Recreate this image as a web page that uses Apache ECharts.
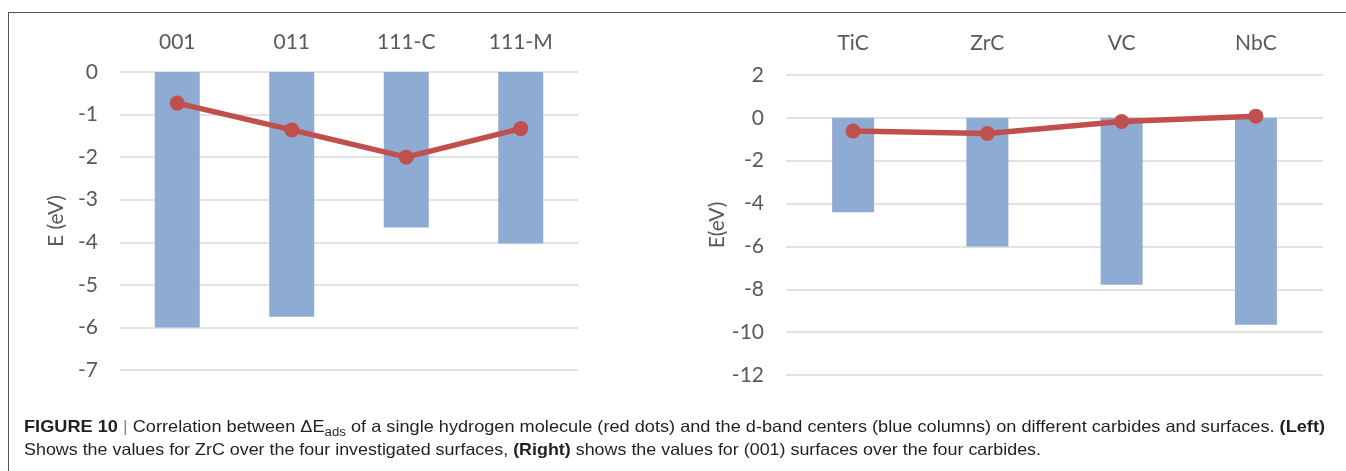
<!DOCTYPE html>
<html>
<head>
<meta charset="utf-8">
<script src="https://cdn.jsdelivr.net/npm/echarts@6/dist/echarts.min.js"></script>
<style>
  html, body { margin: 0; padding: 0; background: #fff; }
  #wrap { position: relative; width: 1346px; height: 471px; overflow: hidden; }
  #frame { position: absolute; left: 8px; top: 12px; width: 1400px; height: 500px;
           border-left: 1.5px solid #555; border-top: 1.5px solid #555; box-sizing: border-box; }
  #chart { position: absolute; left: 0; top: 0; width: 1346px; height: 471px; }
  .cap { position: absolute; left: 24px; white-space: nowrap; font-family: "Liberation Sans", Arial, sans-serif;
         font-size: 16.5px; color: #231f20; transform-origin: 0 50%; }
  .cap b { font-weight: bold; }
  .cap sub { font-size: 12px; vertical-align: -4px; line-height: 0; }
</style>
</head>
<body>
<div id="wrap">
  <div id="frame"></div>
  <div id="chart"></div>
  <div class="cap" id="cap1" style="top:417px"><b>FIGURE 10</b> <span style="color:#888">|</span> Correlation between ΔE<sub>ads</sub> of a single hydrogen molecule (red dots) and the d-band centers (blue columns) on different carbides and surfaces. <b>(Left)</b></div>
  <div class="cap" id="cap2" style="top:440px">Shows the values for ZrC over the four investigated surfaces, <b>(Right)</b> shows the values for (001) surfaces over the four carbides.</div>
</div>
<script>
// Left panel: ZrC over four surfaces
const leftCategories = ['001', '011', '111-C', '111-M'];
const leftDBand = [-6.0, -5.75, -3.65, -4.03];
const leftAds = [-0.73, -1.36, -2.0, -1.33];

// Right panel: (001) surfaces over four carbides
const rightCategories = ['TiC', 'ZrC', 'VC', 'NbC'];
const rightDBand = [-4.41, -6.0, -7.79, -9.66];
const rightAds = [-0.61, -0.73, -0.17, 0.08];

const txt = '#595959';
const fontFam = 'Lato, "Open Sans", sans-serif';
const barColor = '#8eabd3';
const lineColor = '#c0504d';

function xAxisCfg(cats, gridIndex, margin) {
  return {
    type: 'category', gridIndex, data: cats, position: 'top',
    axisLine: { show: false }, axisTick: { show: false },
    axisLabel: { color: txt, fontSize: 21, fontFamily: fontFam, margin }
  };
}
function yAxisCfg(gridIndex, min, max, interval, name, nameGap) {
  return {
    type: 'value', gridIndex, min, max, interval,
    name, nameLocation: 'middle', nameRotate: 90, nameGap,
    nameTextStyle: { color: txt, fontSize: 21, fontFamily: fontFam },
    axisLine: { show: false }, axisTick: { show: false },
    axisLabel: { color: txt, fontSize: 21, fontFamily: fontFam, margin: 22 },
    splitLine: { lineStyle: { color: '#d9d9d9', width: 1.5 } }
  };
}

const chart = echarts.init(document.getElementById('chart'));
chart.setOption({
  animation: false,
  grid: [
    { left: 120, right: 768, top: 72, bottom: 101 },
    { left: 786, right: 23, top: 75, bottom: 96 }
  ],
  xAxis: [xAxisCfg(leftCategories, 0, 19), xAxisCfg(rightCategories, 1, 21)],
  yAxis: [yAxisCfg(0, -7, 0, 1, 'E (eV)', 53), yAxisCfg(1, -12, 2, 2, 'E(eV)', 51)],
  series: [
    { type: 'bar', xAxisIndex: 0, yAxisIndex: 0, data: leftDBand, barWidth: 45,
      itemStyle: { color: barColor } },
    { type: 'line', xAxisIndex: 0, yAxisIndex: 0, data: leftAds, symbol: 'circle', symbolSize: 15,
      lineStyle: { color: lineColor, width: 5.5 }, itemStyle: { color: lineColor } },
    { type: 'bar', xAxisIndex: 1, yAxisIndex: 1, data: rightDBand, barWidth: 42,
      itemStyle: { color: barColor } },
    { type: 'line', xAxisIndex: 1, yAxisIndex: 1, data: rightAds, symbol: 'circle', symbolSize: 15,
      lineStyle: { color: lineColor, width: 5.5 }, itemStyle: { color: lineColor } }
  ]
});

// fit caption lines to reference widths
function fit(id, w) {
  const el = document.getElementById(id);
  const cw = el.getBoundingClientRect().width;
  el.style.transform = 'scaleX(' + (w / cw) + ')';
}
fit('cap1', 1301);
fit('cap2', 1017);
</script>
</body>
</html>
